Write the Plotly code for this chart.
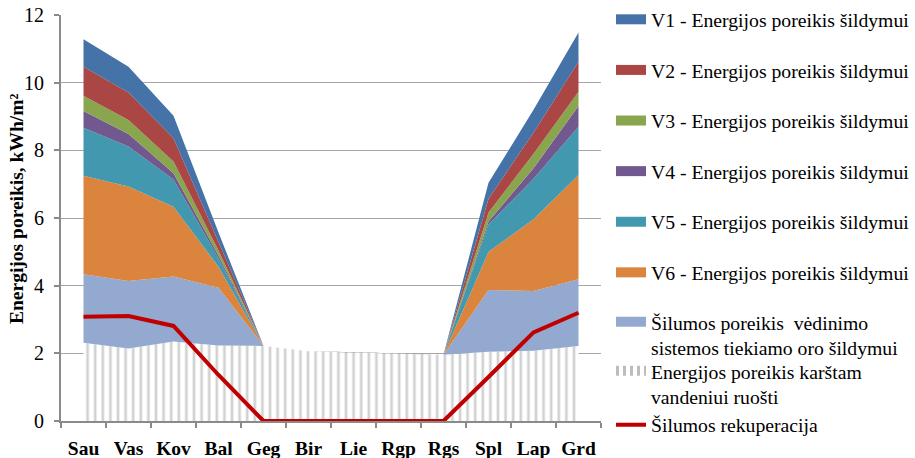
import plotly.graph_objects as go

months = ["Sau", "Vas", "Kov", "Bal", "Geg", "Bir", "Lie", "Rgp", "Rgs", "Spl", "Lap", "Grd"]

# stacked increments (kWh/m2), bottom to top
hot_water = [2.31, 2.14, 2.35, 2.23, 2.22, 2.06, 2.03, 2.00, 1.96, 2.05, 2.08, 2.22]
ventilation = [2.03, 2.00, 1.92, 1.71, 0, 0, 0, 0, 0, 1.82, 1.76, 1.97]
v6 = [2.91, 2.79, 2.06, 0.62, 0, 0, 0, 0, 0, 1.13, 2.12, 3.08]
v5 = [1.42, 1.18, 0.81, 0.25, 0, 0, 0, 0, 0, 0.81, 1.20, 1.43]
v4 = [0.49, 0.37, 0.18, 0.08, 0, 0, 0, 0, 0, 0.09, 0.31, 0.61]
v3 = [0.45, 0.42, 0.35, 0.15, 0, 0, 0, 0, 0, 0.26, 0.43, 0.42]
v2 = [0.86, 0.81, 0.69, 0.25, 0, 0, 0, 0, 0, 0.41, 0.62, 0.89]
v1 = [0.81, 0.76, 0.66, 0.28, 0, 0, 0, 0, 0, 0.47, 0.68, 0.86]
recovery = [3.08, 3.10, 2.81, 1.36, 0, 0, 0, 0, 0, 1.30, 2.62, 3.20]

y_ticks = [0, 2, 4, 6, 8, 10, 12]

v_names = ["V1 - Energijos poreikis šildymui", "V2 - Energijos poreikis šildymui",
           "V3 - Energijos poreikis šildymui", "V4 - Energijos poreikis šildymui",
           "V5 - Energijos poreikis šildymui", "V6 - Energijos poreikis šildymui"]
vent_name = "Šilumos poreikis\u00a0 vėdinimo<br>sistemos tiekiamo oro šildymui"
hw_name = "Energijos poreikis karštam<br>vandeniui ruošti"
rec_name = "Šilumos rekuperacija"
y_title = "Energijos poreikis, kWh/m²"

v_colors = ["#4572A7", "#AA4643", "#89A54E", "#71588F", "#4198AF", "#DB843D"]
vent_color = "#93A9CF"
hw_color = "#A3A3A3"
rec_color = "#C00000"

FONT = "Liberation Serif"

fig = go.Figure()

# hot water (hatched)
fig.add_trace(go.Scatter(
    x=months, y=hot_water, mode="lines", stackgroup="s", line=dict(width=0),
    fillcolor="white",
    fillpattern=dict(shape="|", fgcolor=hw_color, bgcolor="white", size=7.6, solidity=0.35),
    showlegend=False, hoverinfo="skip"))

fig.add_trace(go.Scatter(
    x=months, y=ventilation, mode="lines", stackgroup="s", line=dict(width=0),
    fillcolor=vent_color, showlegend=False, hoverinfo="skip"))

for vals, col in zip([v6, v5, v4, v3, v2, v1], v_colors[::-1]):
    fig.add_trace(go.Scatter(
        x=months, y=vals, mode="lines", stackgroup="s", line=dict(width=0),
        fillcolor=col, showlegend=False, hoverinfo="skip"))

# recovery line
fig.add_trace(go.Scatter(
    x=months, y=recovery, mode="lines", name=rec_name,
    line=dict(color=rec_color, width=4), legend="legend4", hoverinfo="skip"))

# legend swatches
for name, col in zip(v_names, v_colors):
    fig.add_trace(go.Scatter(
        x=[None], y=[None], mode="lines", name=name, legendgroup=name,
        line=dict(color=col, width=10), legend="legend"))
fig.add_trace(go.Scatter(
    x=[None], y=[None], mode="lines", name=vent_name,
    line=dict(color=vent_color, width=10), legend="legend2"))
fig.add_trace(go.Scatter(
    x=[None], y=[None], mode="lines", name=hw_name,
    line=dict(color="#BDBDBD", width=10, dash="3px,4px"), legend="legend3"))

PLOT_TOP, PLOT_BOTTOM = 15, 421
PLOT_H = PLOT_BOTTOM - PLOT_TOP
PLOT_L, PLOT_W = 61, 540


def py(p):
    return (PLOT_BOTTOM - p) / PLOT_H


def px(p):
    return (p - PLOT_L) / PLOT_W


LX = px(611)
legend_font = dict(family=FONT, size=19.7, color="black")
common = dict(x=LX, xanchor="left", bgcolor="rgba(0,0,0,0)", borderwidth=0,
              font=legend_font, itemwidth=30, itemclick=False, itemdoubleclick=False,
              maxheight=600)

fig.update_layout(
    width=915, height=458,
    margin=dict(l=PLOT_L, r=915 - PLOT_L - PLOT_W, t=PLOT_TOP, b=458 - PLOT_BOTTOM, autoexpand=False),
    paper_bgcolor="white", plot_bgcolor="white",
    font=dict(family=FONT, color="black"),
    legend=dict(**common, y=py(0), yanchor="top", traceorder="grouped", tracegroupgap=22.0),
    legend2=dict(**common, y=py(335), yanchor="middle", valign="top"),
    legend3=dict(**common, y=py(384), yanchor="middle", valign="top"),
    legend4=dict(**common, y=py(425), yanchor="middle"),
    xaxis=dict(
        type="category", categoryorder="array", categoryarray=months,
        range=[-0.5, len(months) - 0.5],
        showline=True, linecolor="#8A8A8A", linewidth=2,
        ticks="outside", tickson="boundaries", ticklen=5, tickcolor="#8A8A8A", tickwidth=1.5,
        tickfont=dict(family=FONT, size=19.5, color="black", weight="bold"),
        ticklabelstandoff=9,
        showgrid=False, zeroline=False, fixedrange=True),
    yaxis=dict(
        range=[0, 12], tickvals=y_ticks, ticktext=[str(v) for v in y_ticks],
        showline=True, linecolor="#8A8A8A", linewidth=2,
        ticks="outside", ticklen=5, tickcolor="#8A8A8A", tickwidth=1.5,
        tickfont=dict(family=FONT, size=20, color="black"),
        ticklabelstandoff=6,
        showgrid=True, gridcolor="#A6A6A6", gridwidth=1,
        zeroline=False, fixedrange=True),
    annotations=[dict(
        text=y_title, textangle=-90, xref="paper", yref="paper",
        x=px(16), y=py(209), xanchor="center", yanchor="middle", showarrow=False,
        font=dict(family=FONT, size=19.5, color="black", weight="bold"))],
)

fig.write_html("out.html")
